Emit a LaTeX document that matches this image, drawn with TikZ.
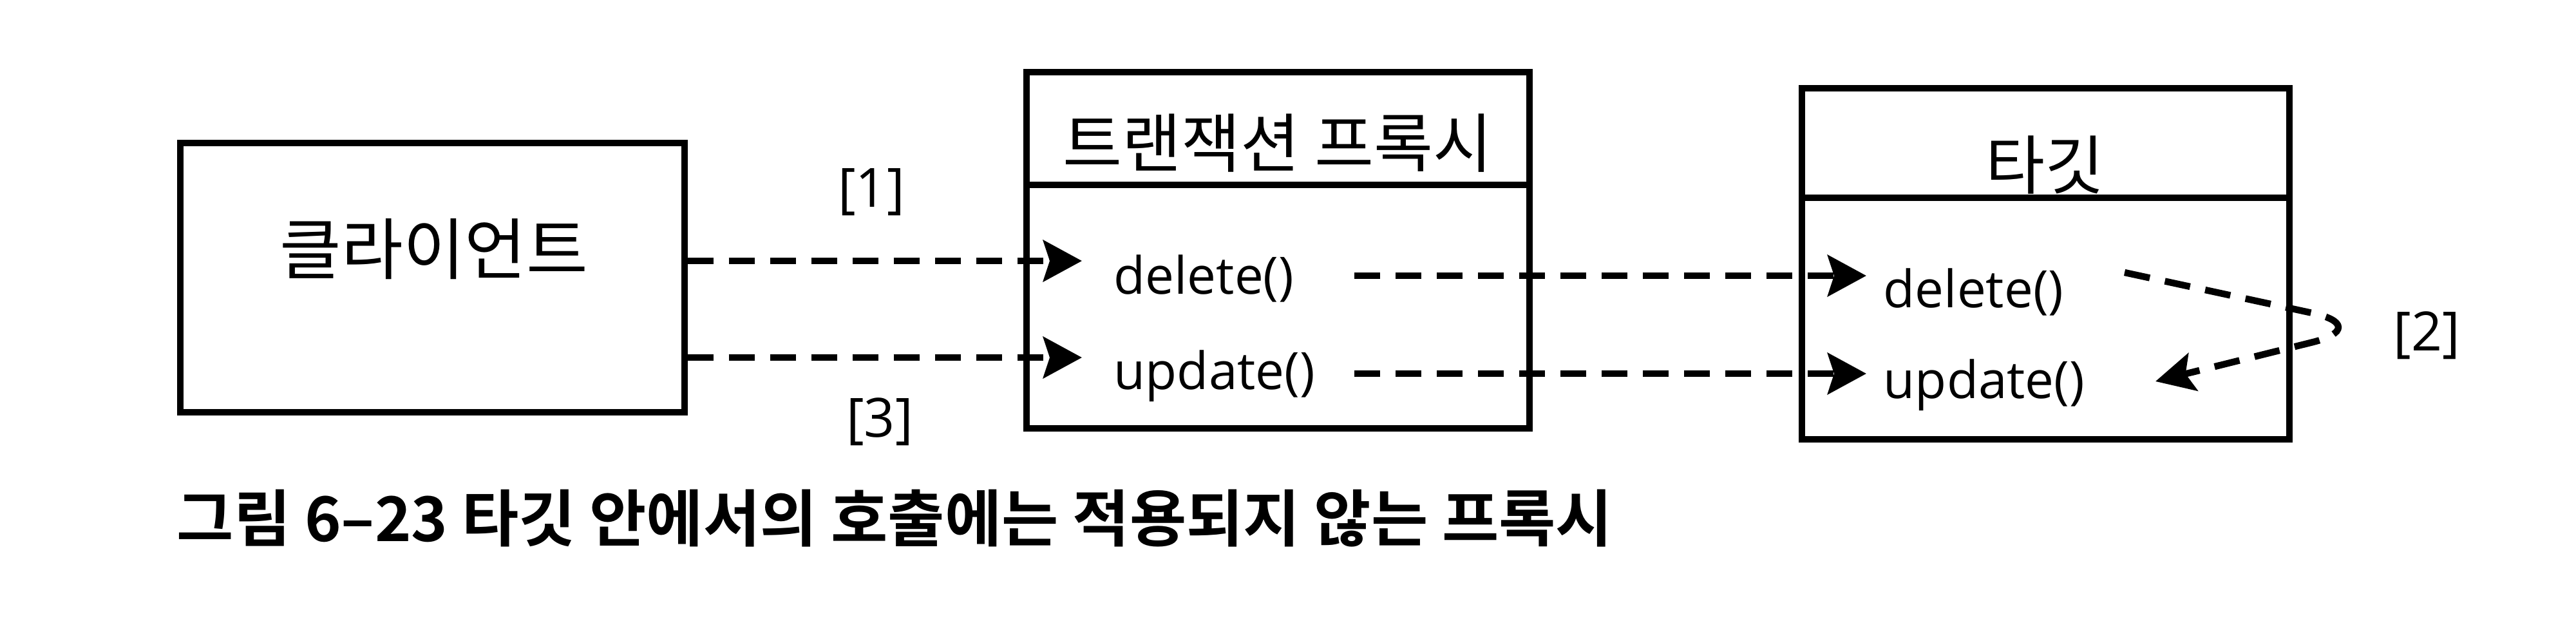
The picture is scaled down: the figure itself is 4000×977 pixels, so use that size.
\documentclass[tikz,border=0pt]{standalone}
\usepackage{fontspec}
\setmainfont{Noto Sans CJK KR}[BoldFont={Noto Sans CJK KR Bold}]
\newfontfamily\latinfont{Open Sans}
\usetikzlibrary{arrows.meta}
\begin{document}
\begin{tikzpicture}[x=0.25pt,y=-0.25pt,
  box/.style={draw, line width=2.3pt, inner sep=0pt},
  divider/.style={line width=2.3pt},
  kor/.style={inner sep=0pt, font=\fontsize{25pt}{29pt}\selectfont},
  meth/.style={inner sep=0pt, anchor=base west, font=\latinfont\fontsize{20pt}{24pt}\selectfont},
  lbl/.style={inner sep=0pt, font=\latinfont\fontsize{21pt}{25pt}\selectfont},
  callarrow/.style={line width=2.6pt, dash pattern=on 10pt off 6pt,
    -{Stealth[length=15pt,width=16pt,inset=2.5pt]}},
  selfarrow/.style={line width=2.6pt, dash pattern=on 10pt off 6pt, rounded corners=25pt,
    -{Stealth[length=15pt,width=15pt,inset=3pt]}}]
\useasboundingbox[fill=white] (0,0) rectangle (4000,977);

% client
\node[box, minimum width=195.75pt, minimum height=104.5pt] (client) at (671.5,431) {};
\node[kor, font=\fontsize{26pt}{30pt}\selectfont] (clientlbl) at (674,387) {클라이언트};

% proxy
\node[box, minimum width=195.25pt, minimum height=138.25pt] (proxy) at (1984.5,388.5) {};
\coordinate (pdiv) at (1984.5,287);
\draw[divider] (proxy.west |- pdiv) -- (proxy.east |- pdiv);
\node[kor] (proxytitle) at (1984,222) {트랜잭션 프록시};
\node[meth] (pdel) at (1729,456) {delete()};
\node[meth] (pupd) at (1729,604) {update()};

% target
\node[box, minimum width=189.25pt, minimum height=136.25pt] (target) at (3176.5,409.5) {};
\coordinate (tdiv) at (3176.5,307);
\draw[divider] (target.west |- tdiv) -- (target.east |- tdiv);
\node[kor] (targettitle) at (3175,256) {타깃};
\node[meth] (tdel) at (2924,477) {delete()};
\node[meth] (tupd) at (2924,618) {update()};

% arrow end points
\coordinate (a1) at (1680,405);
\coordinate (a3) at (1680,555);
\coordinate (b1s) at (2103,428);
\coordinate (b1e) at (2898,428);
\coordinate (b3s) at (2103,580);
\coordinate (b3e) at (2898,580);
\coordinate (s0) at (3299,423);
\coordinate (sc) at (3688,507);
\coordinate (s1) at (3347,592);

\draw[callarrow] (client.east |- a1) -- (a1);
\draw[callarrow] (client.east |- a3) -- (a3);
\draw[callarrow] (b1s) -- (b1e);
\draw[callarrow] (b3s) -- (b3e);
\draw[selfarrow] (s0) -- (sc) -- (s1);

\node[lbl] (l1) at (1353,298) {[1]};
\node[lbl] (l3) at (1366,655) {[3]};
\node[lbl] (l2) at (3768,521) {[2]};

\node[inner sep=0pt, anchor=west, font=\bfseries\fontsize{24pt}{28pt}\selectfont] (caption) at (274,805)
  {그림 6–23 타깃 안에서의 호출에는 적용되지 않는 프록시};
\end{tikzpicture}
\end{document}
